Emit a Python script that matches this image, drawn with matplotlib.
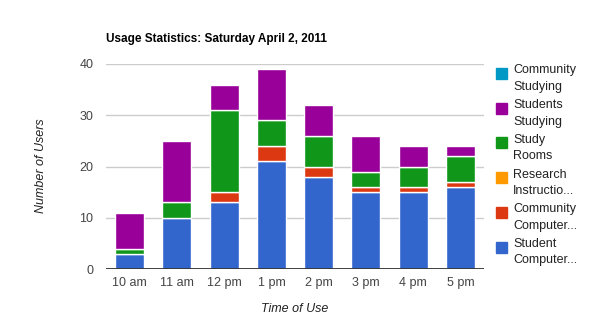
import numpy as np
import matplotlib.pyplot as plt
from matplotlib.patches import Rectangle

# data (bottom to top of each stack)
hours = ["10 am", "11 am", "12 pm", "1 pm", "2 pm", "3 pm", "4 pm", "5 pm"]
student_computer = [3, 10, 13, 21, 18, 15, 15, 16]
community_computer = [0, 0, 2, 3, 2, 1, 1, 1]
research_instruction = [0, 0, 0, 0, 0, 0, 0, 0]
study_rooms = [1, 3, 16, 5, 6, 3, 4, 5]
students_studying = [7, 12, 5, 10, 6, 7, 4, 2]
community_studying = [0, 0, 0, 0, 0, 0, 0, 0]

series = [student_computer, community_computer, research_instruction,
          study_rooms, students_studying, community_studying]
labels = ["Student\nComputer...", "Community\nComputer...", "Research\nInstructio...",
          "Study\nRooms", "Students\nStudying", "Community\nStudying"]
colors = ["#3366cc", "#dc3912", "#ff9900", "#109618", "#990099", "#0099c6"]

plt.rcParams['font.family'] = ['Liberation Sans', 'DejaVu Sans']

W, H = 590, 332
fig = plt.figure(figsize=(W / 100, H / 100), dpi=100)


def px(x, y):
    return x / W, 1 - y / H


ax = fig.add_axes([106 / W, 1 - 269 / H, (484 - 106) / W, (269 - 64) / H])

x = np.arange(len(hours))
bottom = np.zeros(len(hours))
for vals, c in zip(series, colors):
    vals = np.array(vals, dtype=float)
    mask = vals > 0
    ax.bar(x[mask], vals[mask], bottom=bottom[mask], width=0.61, color=c,
           edgecolor="white", linewidth=1.0, zorder=3)
    bottom += vals

ax.set_xlim(-0.5, len(hours) - 0.5)
ax.set_ylim(0, 40)
ax.set_yticks([0, 10, 20, 30, 40])
ax.yaxis.grid(True, color="#cccccc", lw=1, zorder=0)
ax.axhline(0, color="#333333", lw=1.3, zorder=4)
for s in ax.spines.values():
    s.set_visible(False)
ax.tick_params(length=0, labelsize=9, colors="#444444")
ax.tick_params(axis="y", pad=9)
ax.tick_params(axis="x", pad=6)
ax.set_xticks(x)
ax.set_xticklabels(hours)

fig.text(*px(106, 39), "Usage Statistics: Saturday April 2, 2011", fontsize=8.5,
         fontweight="bold", va="center", ha="left", color="black")
fig.text(*px(41, 166), "Number of Users", rotation=90, fontsize=9,
         style="italic", va="center", ha="center", color="#222222")
fig.text(*px(295, 309), "Time of Use", fontsize=9, style="italic",
         va="center", ha="center", color="#222222")

# legend, top entry is the last series
for i, (lab, c) in enumerate(zip(labels[::-1], colors[::-1])):
    y0 = 68 + i * 34.7
    fig.patches.append(Rectangle(px(496, y0 + 11), 11 / W, 11 / H,
                                 transform=fig.transFigure, color=c))
    l1, l2 = lab.split("\n")
    fig.text(*px(513, y0 + 2.5), l1, fontsize=9, va="center", ha="left", color="#222222")
    fig.text(*px(513, y0 + 19), l2, fontsize=9, va="center", ha="left", color="#222222")

fig.savefig("out.png", dpi=100, facecolor="white")
